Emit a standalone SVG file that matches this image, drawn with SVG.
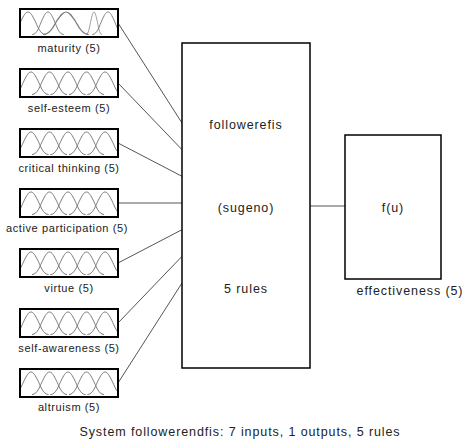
<svg xmlns="http://www.w3.org/2000/svg" xmlns:xlink="http://www.w3.org/1999/xlink" width="464" height="443" viewBox="0 0 464 443">
<style>
.box{fill:#fff;stroke:#000;stroke-width:2}
.big{fill:#fff;stroke:#000;stroke-width:1.5}
.mfc{fill:none;stroke:#7a7a7a;stroke-width:1}
.conn line{stroke:#555;stroke-width:1}
.lbl{font-family:"Liberation Sans",Arial,sans-serif;font-size:11px;letter-spacing:0.6px;fill:#222;text-anchor:middle}
.txt{font-family:"Liberation Sans",Arial,sans-serif;font-size:12.5px;letter-spacing:0.9px;fill:#222;text-anchor:middle}
</style>
<defs>
<path id="bell" d="M-17.5,0 C-11.9,0 -9.1,-9.6 -7,-13.7 C-4.2,-19.2 -2.45,-22.5 0,-22.5 C2.45,-22.5 4.2,-19.2 7,-13.7 C9.1,-9.6 11.9,0 17.5,0"/>
<symbol id="mf" viewBox="0 0 98 28">
<g class="mfc">
<use xlink:href="#bell" transform="translate(11,25.5)"/>
<use xlink:href="#bell" transform="translate(29.5,25.5)"/>
<use xlink:href="#bell" transform="translate(48,25.5)"/>
<use xlink:href="#bell" transform="translate(66.5,25.5)"/>
<use xlink:href="#bell" transform="translate(85,25.5)"/>
</g>
</symbol>
<symbol id="mf1" viewBox="0 0 98 28">
<g class="mfc">
<use xlink:href="#bell" transform="translate(8,25.5)"/>
<use xlink:href="#bell" transform="translate(28,25.5) scale(0.9,1)"/>
<use xlink:href="#bell" transform="translate(46,25.5) scale(1.3,1)"/>
<use xlink:href="#bell" transform="translate(74,25.5) scale(0.45,1)"/>
<use xlink:href="#bell" transform="translate(88,25.5) scale(0.9,1)"/>
</g>
</symbol>
</defs>
<rect width="464" height="443" fill="#fff"/>
<g class="conn">
<line x1="118" y1="23" x2="182" y2="123"/>
<line x1="118" y1="83" x2="182" y2="149.7"/>
<line x1="118" y1="143" x2="182" y2="176.3"/>
<line x1="118" y1="203" x2="182" y2="203"/>
<line x1="118" y1="263" x2="182" y2="229.7"/>
<line x1="118" y1="323" x2="182" y2="256.3"/>
<line x1="118" y1="383" x2="182" y2="283"/>
<line x1="310" y1="206" x2="345" y2="206"/>
</g>
<g id="in-maturity"><rect class="box" x="20" y="9" width="98" height="28"/><use xlink:href="#mf1" x="20" y="9" width="98" height="28"/><rect x="20" y="9" width="98" height="28" fill="none" stroke="#000" stroke-width="2"/><text class="lbl" x="69" y="52">maturity (5)</text></g>
<g id="in-self-esteem"><rect class="box" x="20" y="69" width="98" height="28"/><use xlink:href="#mf" x="20" y="69" width="98" height="28"/><rect x="20" y="69" width="98" height="28" fill="none" stroke="#000" stroke-width="2"/><text class="lbl" x="69" y="112">self-esteem (5)</text></g>
<g id="in-critical-thinking"><rect class="box" x="20" y="129" width="98" height="28"/><use xlink:href="#mf" x="20" y="129" width="98" height="28"/><rect x="20" y="129" width="98" height="28" fill="none" stroke="#000" stroke-width="2"/><text class="lbl" x="69" y="172">critical thinking (5)</text></g>
<g id="in-active-participation"><rect class="box" x="20" y="189" width="98" height="28"/><use xlink:href="#mf" x="20" y="189" width="98" height="28"/><rect x="20" y="189" width="98" height="28" fill="none" stroke="#000" stroke-width="2"/><text class="lbl" x="67" y="232">active participation (5)</text></g>
<g id="in-virtue"><rect class="box" x="20" y="249" width="98" height="28"/><use xlink:href="#mf" x="20" y="249" width="98" height="28"/><rect x="20" y="249" width="98" height="28" fill="none" stroke="#000" stroke-width="2"/><text class="lbl" x="69" y="292">virtue (5)</text></g>
<g id="in-self-awareness"><rect class="box" x="20" y="309" width="98" height="28"/><use xlink:href="#mf" x="20" y="309" width="98" height="28"/><rect x="20" y="309" width="98" height="28" fill="none" stroke="#000" stroke-width="2"/><text class="lbl" x="69" y="352">self-awareness (5)</text></g>
<g id="in-altruism"><rect class="box" x="20" y="369" width="98" height="28"/><use xlink:href="#mf" x="20" y="369" width="98" height="28"/><rect x="20" y="369" width="98" height="28" fill="none" stroke="#000" stroke-width="2"/><text class="lbl" x="69" y="411">altruism (5)</text></g>
<g id="fis"><rect class="big" x="182" y="43" width="128" height="325"/><text class="txt" x="246" y="129">followerefis</text><text class="txt" x="246" y="212">(sugeno)</text><text class="txt" x="246" y="293">5 rules</text></g>
<g id="out-effectiveness"><rect class="big" x="345" y="135" width="96" height="144"/><text class="txt" x="393" y="212">f(u)</text><text class="txt" x="410" y="295">effectiveness (5)</text></g>
<text class="txt" x="240" y="436">System followerendfis: 7 inputs, 1 outputs, 5 rules</text>
</svg>
